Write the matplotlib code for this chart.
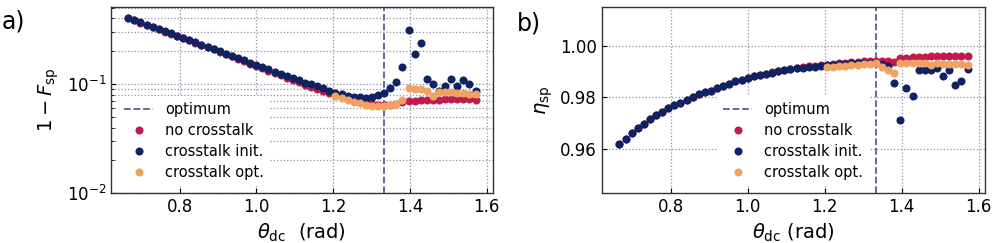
"""
plot.py: single-photon infidelity / efficiency vs. theta_dc, with and without crosstalk.
"""

import matplotlib as mpl
import matplotlib.pyplot as plt
from matplotlib.ticker import MultipleLocator, FormatStrFormatter

# ── Data ──────────────────────────────────────────────────────────────────────
theta = [
    0.6667, 0.6826, 0.6984, 0.7143, 0.7301, 0.7460, 0.7619, 0.7777, 0.7936, 0.8094,
    0.8253, 0.8412, 0.8570, 0.8729, 0.8887, 0.9046, 0.9205, 0.9363, 0.9522, 0.9681,
    0.9839, 0.9998, 1.0156, 1.0315, 1.0474, 1.0632, 1.0791, 1.0949, 1.1108, 1.1267,
    1.1425, 1.1584, 1.1743, 1.1901, 1.2060, 1.2218, 1.2377, 1.2536, 1.2694, 1.2853,
    1.3011, 1.3170, 1.3329, 1.3487, 1.3646, 1.3805, 1.3963, 1.4122, 1.4280, 1.4439,
    1.4598, 1.4756, 1.4915, 1.5073, 1.5232, 1.5391, 1.5549, 1.5708,
]
theta_opt_start = 34          # crosstalk-optimised points start here
theta_optimum = 1.333

# panel a: 1 - F_sp
infid_no_xt = [
    0.402, 0.383, 0.365, 0.348, 0.332, 0.317, 0.302, 0.289, 0.276, 0.263,
    0.251, 0.239, 0.228, 0.218, 0.207, 0.198, 0.188, 0.179, 0.170, 0.162,
    0.154, 0.147, 0.140, 0.132, 0.126, 0.120, 0.114, 0.109, 0.104, 0.0989,
    0.0947, 0.0907, 0.0868, 0.0828, 0.0790, 0.0755, 0.0725, 0.0700, 0.0680, 0.0665,
    0.0652, 0.0645, 0.0640, 0.0645, 0.0652, 0.0678, 0.0698, 0.0703, 0.0708, 0.0713,
    0.0718, 0.0718, 0.0722, 0.0722, 0.0722, 0.0722, 0.0722, 0.0718,
]
infid_xt_init = [
    0.404, 0.385, 0.367, 0.350, 0.334, 0.319, 0.304, 0.290, 0.277, 0.264,
    0.252, 0.240, 0.229, 0.219, 0.208, 0.199, 0.190, 0.181, 0.173, 0.165,
    0.157, 0.150, 0.143, 0.136, 0.130, 0.124, 0.118, 0.113, 0.108, 0.103,
    0.0990, 0.0950, 0.0912, 0.0872, 0.0836, 0.0807, 0.0785, 0.0768, 0.0755, 0.0752,
    0.0765, 0.0795, 0.0835, 0.0920, 0.1050, 0.1420, 0.3100, 0.1870, 0.2380, 0.1120,
    0.1000, 0.0855, 0.0965, 0.1110, 0.0965, 0.1085, 0.1000, 0.0860,
]
infid_xt_opt = [
    0.0782, 0.0749, 0.0715, 0.0688, 0.0664, 0.0645, 0.0634, 0.0630, 0.0630, 0.0638,
    0.0650, 0.0713, 0.0922, 0.0905, 0.0893, 0.0870, 0.0775, 0.0850, 0.0840, 0.0837,
    0.0830, 0.0826, 0.0818, 0.0805,
]

# panel b: eta_sp
eta_no_xt = [
    0.9622, 0.9641, 0.9662, 0.9682, 0.9699, 0.9715, 0.9732, 0.9745, 0.9758, 0.9771,
    0.9780, 0.9791, 0.9800, 0.9812, 0.9819, 0.9826, 0.9835, 0.9845, 0.9853, 0.9862,
    0.9868, 0.9876, 0.9882, 0.9887, 0.9892, 0.9897, 0.9902, 0.9906, 0.9910, 0.9914,
    0.9917, 0.9920, 0.9922, 0.9924, 0.9926, 0.9929, 0.9931, 0.9933, 0.9935, 0.9937,
    0.9939, 0.9940, 0.9941, 0.9942, 0.9941, 0.9936, 0.9951, 0.9953, 0.9955, 0.9956,
    0.9957, 0.9958, 0.9958, 0.9959, 0.9959, 0.9960, 0.9960, 0.9961,
]
eta_xt_init = [
    0.9622, 0.9641, 0.9662, 0.9682, 0.9699, 0.9715, 0.9732, 0.9745, 0.9758, 0.9771,
    0.9780, 0.9791, 0.9800, 0.9812, 0.9819, 0.9826, 0.9835, 0.9845, 0.9853, 0.9862,
    0.9868, 0.9875, 0.9881, 0.9886, 0.9891, 0.9896, 0.9900, 0.9904, 0.9908, 0.9912,
    0.9914, 0.9917, 0.9919, 0.9922, 0.9924, 0.9926, 0.9928, 0.9930, 0.9932, 0.9933,
    0.9934, 0.9934, 0.9933, 0.9930, 0.9920, 0.9855, 0.9714, 0.9836, 0.9804, 0.9904,
    0.9906, 0.9904, 0.9913, 0.9884, 0.9904, 0.9849, 0.9862, 0.9909,
]
eta_xt_opt = [
    0.9917, 0.9919, 0.9920, 0.9922, 0.9924, 0.9926, 0.9927, 0.9930, 0.9934, 0.9916,
    0.9904, 0.9895, 0.9932, 0.9934, 0.9934, 0.9933, 0.9932, 0.9926, 0.9932, 0.9930,
    0.9930, 0.9929, 0.9927, 0.9925,
]

# ── Style ─────────────────────────────────────────────────────────────────────
COLORS = {
    'no_xt':   '#c31a4e',   # crimson
    'xt_init': '#0f2262',   # navy
    'xt_opt':  '#f0a262',   # sand / orange
    'optimum': '#56618c',   # slate
    'grid':    '#8c90a8',
}

mpl.rcParams.update({
    'font.size':        12,
    'axes.labelsize':   14,
    'xtick.labelsize':  12,
    'ytick.labelsize':  12,
    'legend.fontsize':  10.5,
})


def style_axes(ax):
    ax.set_axisbelow(True)
    ax.tick_params(direction='in', which='both')
    for spine in ax.spines.values():
        spine.set_color('#333333')
        spine.set_linewidth(1.0)
    ax.grid(True, which='major', ls=':', lw=0.9, color=COLORS['grid'])


def draw_panel(ax, y_no, y_init, y_opt):
    ax.axvline(theta_optimum, color=COLORS['optimum'], ls='--', lw=1.3,
               label='optimum', zorder=1.5)
    kw = dict(ls='none', marker='o', ms=5.8, mew=0)
    ax.plot(theta, y_no, color=COLORS['no_xt'], label='no crosstalk', **kw)
    ax.plot(theta, y_init, color=COLORS['xt_init'], label='crosstalk init.', **kw)
    ax.plot(theta[theta_opt_start:], y_opt, color=COLORS['xt_opt'],
            label='crosstalk opt.', **kw)


LEGEND_KW = dict(loc='lower left', labelspacing=0.42, frameon=True, fancybox=False,
                 facecolor='white', edgecolor='none', framealpha=1.0)

fig = plt.figure(figsize=(9.96, 2.43), dpi=100)
ax_a = fig.add_axes([0.1114, 0.2045, 0.3835, 0.768])
ax_b = fig.add_axes([0.6044, 0.2045, 0.3845, 0.768])

# ── Panel a ───────────────────────────────────────────────────────────────────
style_axes(ax_a)
draw_panel(ax_a, infid_no_xt, infid_xt_init, infid_xt_opt)
ax_a.set_yscale('log')
ax_a.set_ylim(1e-2, 0.51)
ax_a.yaxis.grid(True, which='minor', ls=':', lw=0.9, color=COLORS['grid'])
ax_a.xaxis.set_major_locator(MultipleLocator(0.2))
ax_a.xaxis.set_major_formatter(FormatStrFormatter('%.1f'))
ax_a.set_xlabel(r'$\theta_{\rm dc}$  (rad)')
ax_a.set_ylabel(r'$1-F_{\rm sp}$')
ax_a.legend(**LEGEND_KW)

# ── Panel b ───────────────────────────────────────────────────────────────────
style_axes(ax_b)
draw_panel(ax_b, eta_no_xt, eta_xt_init, eta_xt_opt)
ax_b.set_ylim(0.943, 1.015)
ax_b.yaxis.set_major_locator(MultipleLocator(0.02))
ax_b.yaxis.set_major_formatter(FormatStrFormatter('%.2f'))
ax_b.xaxis.set_major_locator(MultipleLocator(0.2))
ax_b.xaxis.set_major_formatter(FormatStrFormatter('%.1f'))
ax_b.set_xlabel(r'$\theta_{\rm dc}$ (rad)')
ax_b.set_ylabel(r'$\eta_{\rm sp}$')
ax_b.legend(bbox_to_anchor=(0.282, 0.0), **LEGEND_KW)

# panel letters
fig.text(0.002, 1 - 22 / 243, 'a)', fontsize=17, va='center', ha='left')
fig.text(0.519, 1 - 23 / 243, 'b)', fontsize=17, va='center', ha='left')

fig.savefig('out.png', dpi=100)
